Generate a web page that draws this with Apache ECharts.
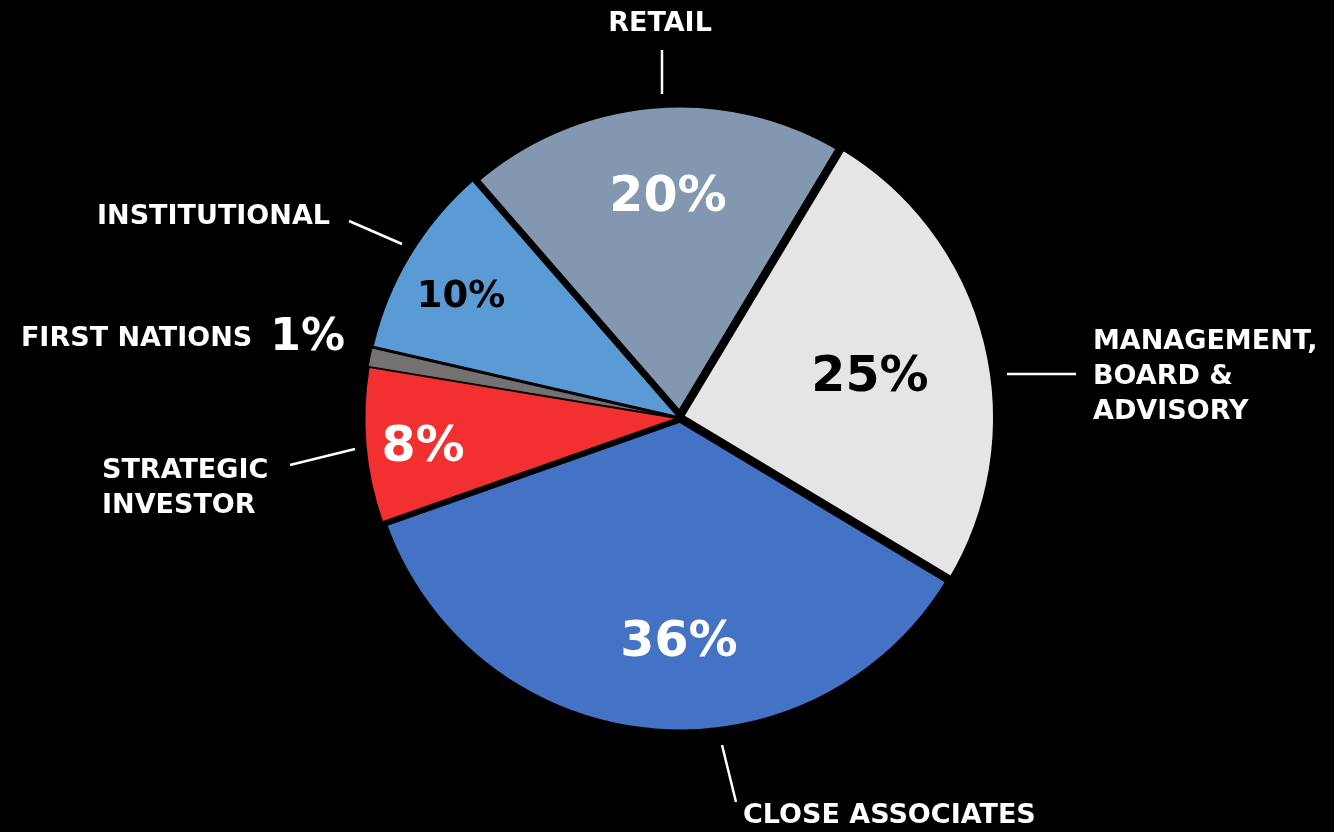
<!DOCTYPE html>
<html>
<head>
<meta charset="utf-8">
<script src="https://cdn.jsdelivr.net/npm/echarts@6/dist/echarts.min.js"></script>
<style>
html,body{margin:0;padding:0;background:#000;}
#chart{width:1334px;height:832px;}
</style>
</head>
<body>
<div id="chart"></div>
<script>
// ---- data ----
const categories = ['RETAIL', 'MANAGEMENT,\nBOARD &\nADVISORY', 'CLOSE ASSOCIATES', 'STRATEGIC\nINVESTOR', 'FIRST NATIONS', 'INSTITUTIONAL'];
const shares = [20, 25, 36, 8, 1, 10];

// ---- styles ----
const sliceColors = ['#8497b0', '#e5e5e5', '#4472c4', '#f2302f', '#767171', '#5b9bd5'];
const sliceBorders = [11, 6, 9, 3, 1, 3];
const pctColors = ['#ffffff', '#000000', '#ffffff', '#ffffff', '#ffffff', '#000000'];
const pctSizes = [49, 49, 49, 49, 44, 37];
const FONT = '"DejaVu Sans", sans-serif';

const CX = 680, CY = 418, R = 316;
// inner percentage label offsets from pie centre
const pctOffsets = [[-12, -220], [190, -40], [-1, 225], [-257, 30], null, [-219, -121]];
// outer name label anchors (offset from centre) and alignment
const nameOffsets = [[-20, -394], [413, -41], [63, 398], [-578, 70], [-335, -79], [-350, -201]];
const nameAlign = ['center', 'left', 'left', 'left', 'right', 'right'];
// leader line ends (offset from centre)
const leaderLines = [
  [[-18, -324], [-18, -368]],
  [[327, -44], [396, -44]],
  [[42, 327], [56, 384]],
  [[-325, 31], [-390, 47]],
  null,
  [[-278, -174], [-331, -197]]
];

const pieData = categories.map((c, i) => ({
  name: c,
  value: shares[i],
  itemStyle: { color: sliceColors[i], borderColor: '#000', borderWidth: sliceBorders[i] },
  label: {
    show: pctOffsets[i] !== null,
    color: pctColors[i],
    fontSize: pctSizes[i]
  }
}));

const nameData = categories.map((c, i) => ({
  name: c,
  value: shares[i],
  labelLine: { show: leaderLines[i] !== null }
}));

const chart = echarts.init(document.getElementById('chart'), null, { renderer: 'canvas' });
chart.setOption({
  backgroundColor: '#000',
  animation: false,
  series: [
    {
      type: 'pie',
      center: [CX, CY],
      radius: R,
      startAngle: 131,
      clockwise: true,
      silent: true,
      avoidLabelOverlap: false,
      data: pieData,
      label: {
        position: 'inside',
        formatter: '{c}%',
        fontFamily: FONT,
        fontWeight: 'bold'
      },
      labelLine: { show: false },
      labelLayout: function (p) {
        const o = pctOffsets[p.dataIndex];
        if (!o) return {};
        return { x: CX + o[0], y: CY + o[1], align: 'center', verticalAlign: 'middle' };
      }
    },
    {
      type: 'pie',
      center: [CX, CY],
      radius: R,
      startAngle: 131,
      clockwise: true,
      silent: true,
      avoidLabelOverlap: false,
      itemStyle: { color: 'rgba(0,0,0,0)', borderWidth: 0 },
      data: nameData,
      label: {
        position: 'outside',
        overflow: 'none',
        color: '#fff',
        fontFamily: FONT,
        fontWeight: 'bold',
        fontSize: 27,
        lineHeight: 35,
        formatter: function (p) {
          if (p.dataIndex === 4) return '{n|' + p.name + '}{p|' + p.value + '%}';
          return p.name;
        },
        rich: {
          n: { color: '#fff', fontFamily: FONT, fontWeight: 'bold', fontSize: 27 },
          p: { color: '#fff', fontFamily: FONT, fontWeight: 'bold', fontSize: 44, padding: [0, 0, 0, 18] }
        }
      },
      labelLine: {
        length: 1,
        length2: 1,
        lineStyle: { color: '#fff', width: 2.5 }
      },
      labelLayout: function (p) {
        const i = p.dataIndex;
        const o = nameOffsets[i];
        const res = { x: CX + o[0], y: CY + o[1], align: nameAlign[i], verticalAlign: 'middle' };
        const l = leaderLines[i];
        if (l) {
          const a = [CX + l[0][0], CY + l[0][1]];
          const b = [CX + l[1][0], CY + l[1][1]];
          res.labelLinePoints = [a, [(a[0] + b[0]) / 2, (a[1] + b[1]) / 2], b];
        }
        return res;
      }
    }
  ]
});
</script>
</body>
</html>
